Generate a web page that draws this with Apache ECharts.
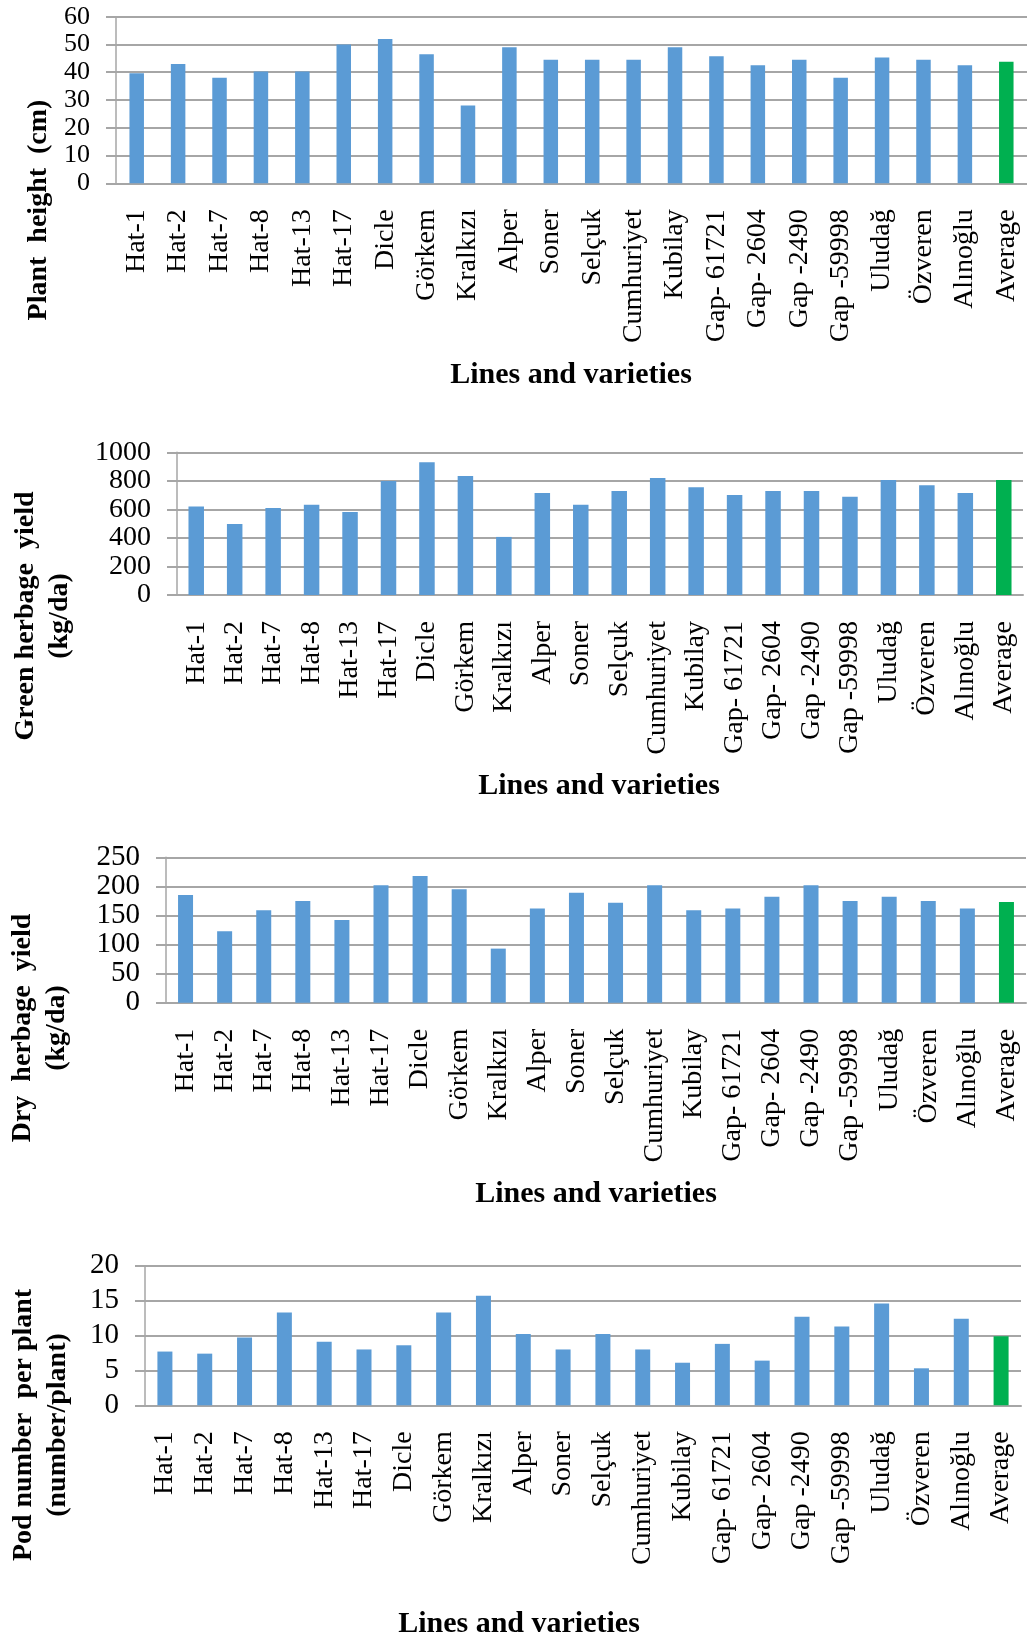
<!DOCTYPE html>
<html>
<head>
<meta charset="utf-8">
<script src="https://cdn.jsdelivr.net/npm/echarts@6/dist/echarts.min.js"></script>
<style>
html,body{margin:0;padding:0;background:#fff;}
#chart{width:1027px;height:1640px;}
</style>
</head>
<body>
<div id="chart"></div>
<script>
const categories = ['Hat-1','Hat-2','Hat-7','Hat-8','Hat-13','Hat-17','Dicle','Görkem','Kralkızı','Alper','Soner','Selçuk','Cumhuriyet','Kubilay','Gap- 61721','Gap- 2604','Gap -2490','Gap -59998','Uludağ','Özveren','Alınoğlu','Average'];

const plantHeight = [39.6, 43, 38, 40.3, 40.3, 50, 52, 46.5, 28, 49, 44.5, 44.5, 44.5, 49, 45.8, 42.5, 44.5, 38, 45.3, 44.5, 42.5, 43.8];
const greenHerbage = [621, 498, 610, 633, 582, 799, 930, 834, 407, 715, 633, 729, 820, 755, 701, 729, 729, 689, 806, 769, 715, 806];
const dryHerbage = [185, 123, 159, 175, 142, 202, 218, 195, 93, 162, 189, 172, 202, 159, 162, 182, 202, 175, 182, 175, 162, 173];
const podNumber = [7.7, 7.4, 9.7, 13.3, 9.1, 8.0, 8.6, 13.3, 15.7, 10.2, 8.0, 10.2, 8.0, 6.1, 8.8, 6.4, 12.7, 11.3, 14.6, 5.3, 12.4, 9.9];

const yMax = [60, 1000, 250, 20];
const yInterval = [10, 200, 50, 5];
const yTitles = ['Plant  height  (cm)', 'Green herbage  yield\n(kg/da)', 'Dry  herbage  yield\n(kg/da)', 'Pod number  per plant\n(number/plant)'];
const xTitle = 'Lines and varieties';

const seriesData = [plantHeight, greenHerbage, dryHerbage, podNumber];

const FONT = '"Liberation Serif", "Times New Roman", serif';
const BLUE = '#5b9bd5';
const GREEN = '#00b050';
const GRID_COLOR = '#a6a6a6';

const grids = [
  {left: 116, top: 16.7, width: 911, height: 166.6},
  {left: 177, top: 452.3, width: 846, height: 142.7},
  {left: 166, top: 857.3, width: 860, height: 145.4},
  {left: 145, top: 1265.7, width: 876, height: 139.6}
];
const barWidths = [14.5, 15.5, 15, 15];
const yLabelSizes = [26, 28, 29, 29];
const yTitlePos = [[39, 210], [43, 616], [40, 1028], [41, 1425]];
const xTitlePos = [[571, 375], [599, 786], [596, 1194], [519, 1624]];

const option = {
  animation: false,
  backgroundColor: '#fff',
  grid: grids.map(g => Object.assign({outerBoundsMode: 'none', containLabel: false}, g)),
  xAxis: grids.map((g, i) => ({
    type: 'category',
    gridIndex: i,
    data: categories,
    axisLine: {show: true, lineStyle: {color: GRID_COLOR, width: 2}},
    axisTick: {show: false},
    axisLabel: {
      rotate: 90,
      interval: 0,
      margin: 26,
      hideOverlap: false,
      color: '#000',
      fontFamily: FONT,
      fontSize: 28
    }
  })),
  yAxis: grids.map((g, i) => ({
    type: 'value',
    gridIndex: i,
    min: 0,
    max: yMax[i],
    interval: yInterval[i],
    axisLine: {show: true, lineStyle: {color: GRID_COLOR, width: 1.5}},
    axisTick: {show: true, length: 10, lineStyle: {color: GRID_COLOR, width: 2}},
    splitLine: {show: true, lineStyle: {color: GRID_COLOR, width: 2}},
    axisLabel: {
      margin: 26,
      showMinLabel: true,
      showMaxLabel: true,
      hideOverlap: false,
      formatter: v => String(v),
      color: '#000',
      fontFamily: FONT,
      fontSize: yLabelSizes[i],
      lineHeight: 20
    }
  })),
  series: seriesData.map((d, i) => ({
    type: 'bar',
    xAxisIndex: i,
    yAxisIndex: i,
    data: d,
    barWidth: barWidths[i],
    itemStyle: {
      color: p => categories[p.dataIndex] === 'Average' ? GREEN : BLUE
    }
  })),
  graphic: [
    ...yTitlePos.map((p, i) => ({
      type: 'text',
      x: p[0],
      y: p[1],
      rotation: Math.PI / 2,
      style: {
        text: yTitles[i],
        fontFamily: FONT,
        fontWeight: 'bold',
        fontSize: 28,
        lineHeight: 34,
        fill: '#000',
        align: 'center',
        verticalAlign: 'middle'
      }
    })),
    ...xTitlePos.map(p => ({
      type: 'text',
      x: p[0],
      y: p[1],
      style: {
        text: xTitle,
        fontFamily: FONT,
        fontWeight: 'bold',
        fontSize: 30,
        fill: '#000',
        align: 'center',
        verticalAlign: 'middle'
      }
    }))
  ]
};

const chart = echarts.init(document.getElementById('chart'), null, {renderer: 'canvas'});
chart.setOption(option);
</script>
</body>
</html>
